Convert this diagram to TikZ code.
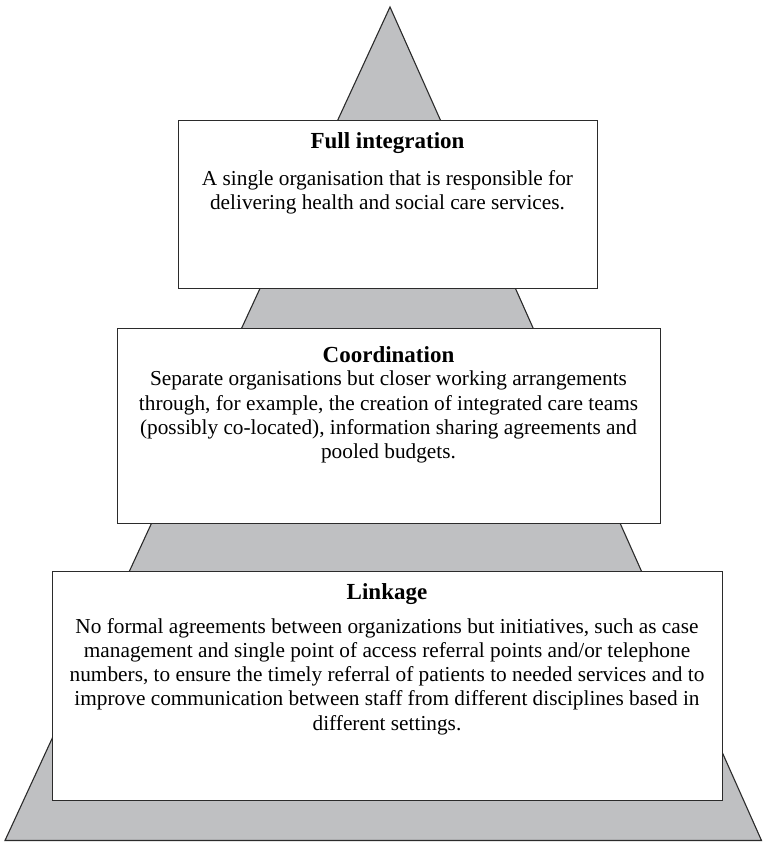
\documentclass[tikz,border=0pt]{standalone}
\usepackage{fontspec}
\setmainfont{Liberation Serif}
\definecolor{pyrgray}{HTML}{BFC0C2}
\definecolor{edgecol}{HTML}{2B2B2B}
\begin{document}
\begin{tikzpicture}[x=1pt,y=-1pt,
  layerbox/.style={draw=edgecol, line width=1.1pt, fill=white, inner sep=0pt, anchor=north west},
  titletext/.style={font=\fontsize{23}{27}\selectfont\bfseries, anchor=base, inner sep=0pt},
  bodytext/.style={font=\fontsize{21.3}{24.2}\selectfont, align=center, anchor=north, inner sep=0pt}]
\useasboundingbox (0,0) rectangle (762,842);
\coordinate (apex) at (390,7);
\coordinate (bl) at (5,840.5);
\coordinate (br) at (761.5,840.5);
\draw[fill=pyrgray, draw=edgecol, line width=1.1pt, line join=miter] (apex) -- (bl) -- (br) -- cycle;
% boxes
\node[layerbox, minimum width=419pt, minimum height=168pt] (full) at (178,120) {};
\node[layerbox, minimum width=543pt, minimum height=194.7pt] (coord) at (117,328) {};
\node[layerbox, minimum width=670pt, minimum height=229.3pt] (link) at (52,570.7) {};
% texts
\node[titletext] (fullt) at (387.5,148.5) {Full integration};
\node[bodytext] (fullb) at (387.5,170) {A single organisation that is responsible for\\delivering health and social care services.};
\node[titletext] (coordt) at (388.5,362.5) {Coordination};
\node[bodytext] (coordb) at (388.5,371) {Separate organisations but closer working arrangements\\through, for example, the creation of integrated care teams\\(possibly co-located), information sharing agreements and\\pooled budgets.};
\node[titletext] (linkt) at (387,599.5) {Linkage};
\node[bodytext] (linkb) at (387,618) {No formal agreements between organizations but initiatives, such as case\\management and single point of access referral points and/or telephone\\numbers, to ensure the timely referral of patients to needed services and to\\improve communication between staff from different disciplines based in\\different settings.};
\end{tikzpicture}
\end{document}
